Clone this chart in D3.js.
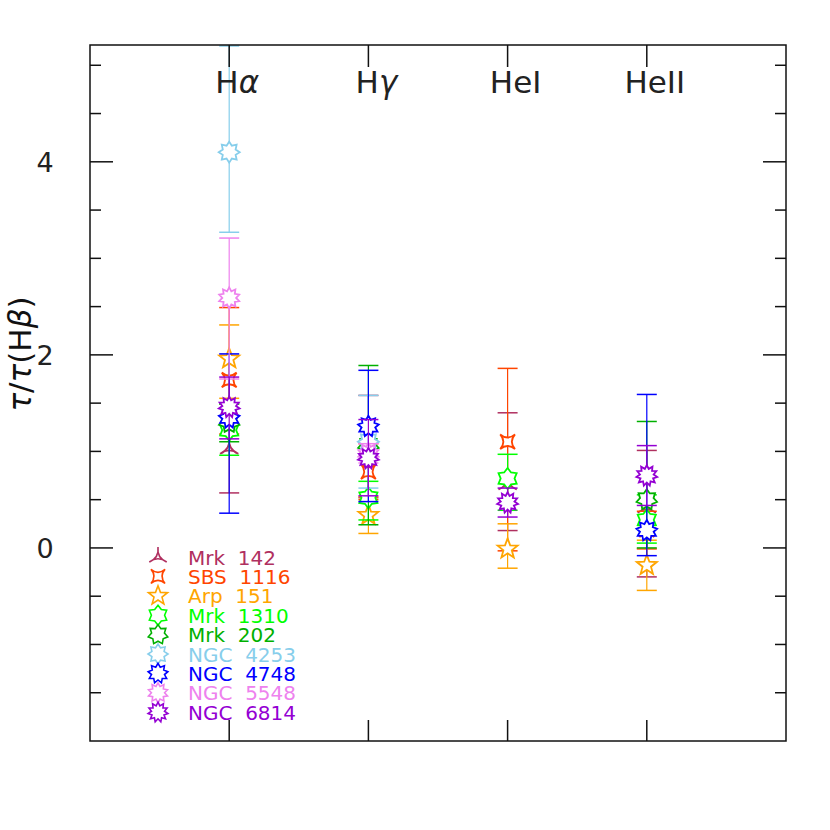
<!DOCTYPE html>
<html lang="en">
<head>
<meta charset="utf-8">
<title>tau ratios</title>
<script src="https://d3js.org/d3.v7.min.js"></script>
<style>
  body { margin: 0; background: #fff; }
  text { font-family: "DejaVu Sans", sans-serif; }
</style>
</head>
<body>
<script>
// emission lines (x categories)
const lines = ["Hα", "Hγ", "HeI", "HeII"];
const objects = ["Mrk 142", "SBS 1116", "Arp 151", "Mrk 1310", "Mrk 202",
                 "NGC 4253", "NGC 4748", "NGC 5548", "NGC 6814"];
const colors = ["#b03060", "#ff4500", "#ffa500", "#00ff00", "#00b000",
                "#87ceeb", "#0000ff", "#ee82ee", "#9400d3"];
const starPoints = [3, 4, 5, 6, 7, 8, 9, 10, 11];

// tau / tau(Hbeta), with upper and lower ends of the error bars
const tauHa = [1.03, 1.74, 1.96, 1.22, 1.30, 4.10, 1.35, 2.59, 1.46];
const hiHa  = [1.49, 2.49, 2.31, 1.49, 1.50, 5.20, 2.01, 3.21, 1.77];
const loHa  = [0.57, 1.18, 1.55, 0.96, 1.10, 3.27, 0.36, 1.75, 1.13];

const tauHg = [1.05, 0.79, 0.34, 0.52, 1.06, 1.10, 1.26, 0.98, 0.93];
const hiHg  = [1.58, 1.08, 0.53, 0.69, 1.89, 1.58, 1.84, 1.08, 1.33];
const loHg  = [0.52, 0.50, 0.15, 0.29, 0.24, 0.62, 0.48, 0.88, 0.54];

const tauHeI = [0.66, 1.10, -0.01, 0.72, null, null, null, null, 0.47];
const hiHeI  = [1.40, 1.86, 0.25, 0.97, null, null, null, null, 0.62];
const loHeI  = [0.18, -0.03, -0.21, 0.39, null, null, null, null, 0.32];

const tauHeII = [0.42, 0.19, -0.18, 0.29, 0.50, null, 0.18, null, 0.75];
const hiHeII  = [1.01, 0.38, 0.08, 0.55, 1.31, null, 1.59, null, 1.06];
const loHeII  = [-0.30, -0.01, -0.44, 0.05, 0.00, null, -0.08, null, 0.44];

const tauAll = [tauHa, tauHg, tauHeI, tauHeII];
const hiAll = [hiHa, hiHg, hiHeI, hiHeII];
const loAll = [loHa, loHg, loHeI, loHeII];

const w = 830, h = 830;
const padL = 90, padR = 786, padT = 45, padB = 741;

const x = d3.scaleLinear().domain([0, 5]).range([padL, padR]);
const y = d3.scaleLinear().domain([-2, 5.21]).range([padB, padT]);

const svg = d3.select("body").append("svg")
  .attr("width", w).attr("height", h);

// star-like marker path (3 and 4 points get curved, concave sides)
function star(n, R) {
  const r = n === 5 ? 0.42 * R : 0.66 * R;
  const c = n === 3 ? -0.15 * R : 0.1 * R;
  const rot = n === 4 ? Math.PI / 4 : 0;
  let p = "";
  for (let k = 0; k < n; k++) {
    const a = rot - Math.PI / 2 + k * 2 * Math.PI / n;
    const b = a + Math.PI / n;
    const tx = R * Math.cos(a), ty = R * Math.sin(a);
    p += (k === 0 ? "M" : "L") + tx.toFixed(2) + "," + ty.toFixed(2);
    if (n <= 4) {
      const a2 = a + 2 * Math.PI / n;
      p += "Q" + (c * Math.cos(b)).toFixed(2) + "," + (c * Math.sin(b)).toFixed(2) + " " +
           (R * Math.cos(a2)).toFixed(2) + "," + (R * Math.sin(a2)).toFixed(2);
    } else {
      p += "L" + (r * Math.cos(b)).toFixed(2) + "," + (r * Math.sin(b)).toFixed(2);
    }
  }
  return p + "Z";
}

const plot = svg.append("g");

// axes: left/right minor + major ticks, top/bottom category ticks
const yTicks = d3.range(-1.5, 5.01, 0.5);
const axisG = svg.append("g").attr("stroke", "#111").attr("stroke-width", 1.5);
yTicks.forEach(v => {
  const len = Math.abs(v % 2) < 1e-9 ? 23 : 11;
  axisG.append("line").attr("x1", padL).attr("x2", padL + len)
    .attr("y1", y(v)).attr("y2", y(v));
  axisG.append("line").attr("x1", padR).attr("x2", padR - len)
    .attr("y1", y(v)).attr("y2", y(v));
});
lines.forEach((l, i) => {
  axisG.append("line").attr("x1", x(i + 1)).attr("x2", x(i + 1))
    .attr("y1", padB).attr("y2", padB - 21);
  axisG.append("line").attr("x1", x(i + 1)).attr("x2", x(i + 1))
    .attr("y1", padT).attr("y2", padT + 22);
});
svg.append("rect").attr("x", padL).attr("y", padT)
  .attr("width", padR - padL).attr("height", padB - padT)
  .attr("fill", "none").attr("stroke", "#111").attr("stroke-width", 1.5);

[0, 2, 4].forEach(v => {
  svg.append("text").attr("x", 45).attr("y", y(v) + 10)
    .attr("text-anchor", "middle").attr("font-size", 27).attr("fill", "#222")
    .text(v);
});

// y axis title
const yt = svg.append("text")
  .attr("transform", "translate(31,354) rotate(-90)")
  .attr("text-anchor", "middle").attr("font-size", 31).attr("fill", "#111");
yt.append("tspan").attr("font-style", "italic").text("τ");
yt.append("tspan").text("/");
yt.append("tspan").attr("font-style", "italic").text("τ");
yt.append("tspan").text("(H");
yt.append("tspan").attr("font-style", "italic").text("β");
yt.append("tspan").text(")");

// line labels at the top
lines.forEach((l, i) => {
  const t = svg.append("text").attr("x", x(i + 1) + 8).attr("y", 93)
    .attr("text-anchor", "middle").attr("font-size", 31).attr("fill", "#222");
  if (l === "Hα" || l === "Hγ") {
    t.append("tspan").text("H");
    t.append("tspan").attr("font-style", "italic").text(l.slice(1));
  } else {
    t.text(l);
  }
});

// error bars and markers
svg.append("clipPath").attr("id", "clip")
  .append("rect").attr("x", padL).attr("y", padT)
  .attr("width", padR - padL).attr("height", padB - padT);
plot.attr("clip-path", "url(#clip)");

objects.forEach((name, j) => {
  const g = plot.append("g").attr("stroke", colors[j]).attr("fill", "none");
  lines.forEach((l, i) => {
    const v = tauAll[i][j];
    if (v === null) return;
    const cx = x(i + 1);
    const hi = hiAll[i][j], lo = loAll[i][j];
    g.append("line").attr("x1", cx).attr("x2", cx)
      .attr("y1", y(lo)).attr("y2", y(hi)).attr("stroke-width", 1.2);
    [lo, hi].forEach(e => {
      g.append("line").attr("x1", cx - 10).attr("x2", cx + 10)
        .attr("y1", y(e)).attr("y2", y(e)).attr("stroke-width", 1.5);
    });
    g.append("path").attr("d", star(starPoints[j], 10.5))
      .attr("transform", "translate(" + cx + "," + y(v) + ")")
      .attr("fill", "white").attr("stroke-width", 1.8);
  });
});

// legend
const leg = svg.append("g");
objects.forEach((name, j) => {
  const ly = 557 + j * 19.4;
  leg.append("path").attr("d", star(starPoints[j], 10))
    .attr("transform", "translate(158," + ly + ")")
    .attr("fill", "none").attr("stroke", colors[j]).attr("stroke-width", 1.6);
  leg.append("text").attr("x", 188).attr("y", ly + 7.5)
    .attr("font-size", 20).attr("fill", colors[j])
    .attr("xml:space", "preserve").style("white-space", "pre")
    .text(name.replace(" ", "  "));
});
</script>
</body>
</html>
